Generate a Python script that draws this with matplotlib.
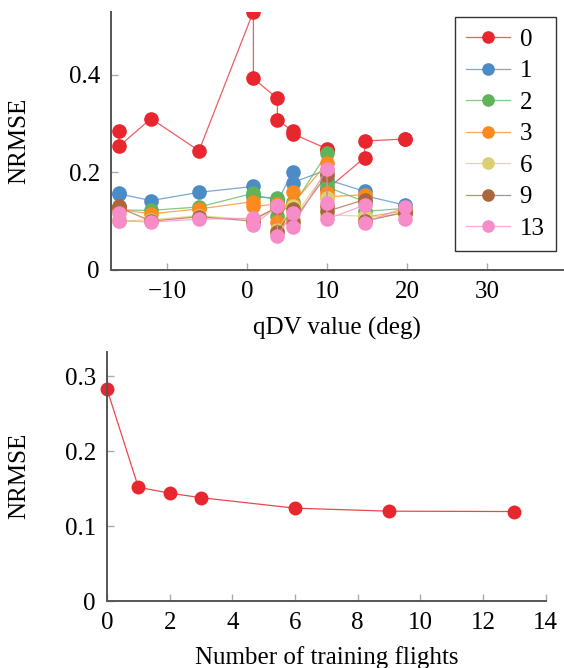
import matplotlib
matplotlib.use("Agg")
import matplotlib.pyplot as plt
from matplotlib.colors import to_rgba

plt.rcParams["font.family"] = ["Liberation Serif", "DejaVu Serif"]

# top panel: NRMSE vs qDV for different numbers of training flights
qdv = [-16, -16, -12, -6, 0.8, 0.8, 3.8, 3.8, 5.7, 5.7, 10, 10, 10, 14.7, 14.7, 19.7, 19.7]
series_labels = ["0", "1", "2", "3", "6", "9", "13"]
nrmse_0 = [0.285, 0.253, 0.310, 0.244, 0.529, 0.392, 0.351, 0.308, 0.284, 0.279, 0.248, 0.246, 0.165, 0.230, 0.264, 0.268, 0.268]
nrmse_1 = [0.158, 0.156, 0.142, 0.159, 0.171, 0.153, 0.144, 0.140, 0.200, 0.179, 0.205, 0.198, 0.185, 0.161, 0.152, 0.133, 0.131]
nrmse_2 = [0.128, 0.123, 0.122, 0.129, 0.157, 0.150, 0.147, 0.110, 0.140, 0.130, 0.239, 0.178, 0.170, 0.140, 0.120, 0.126, 0.124]
nrmse_3 = [0.126, 0.124, 0.115, 0.125, 0.140, 0.130, 0.135, 0.099, 0.159, 0.135, 0.219, 0.157, 0.150, 0.154, 0.108, 0.121, 0.119]
nrmse_6 = [0.105, 0.100, 0.103, 0.111, 0.103, 0.098, 0.132, 0.082, 0.130, 0.105, 0.203, 0.147, 0.113, 0.110, 0.106, 0.116, 0.114]
nrmse_9 = [0.130, 0.128, 0.100, 0.109, 0.100, 0.104, 0.128, 0.078, 0.125, 0.099, 0.195, 0.130, 0.120, 0.144, 0.100, 0.118, 0.116]
nrmse_13 = [0.116, 0.101, 0.098, 0.104, 0.106, 0.092, 0.130, 0.070, 0.116, 0.089, 0.207, 0.137, 0.104, 0.133, 0.097, 0.128, 0.104]
all_series = [nrmse_0, nrmse_1, nrmse_2, nrmse_3, nrmse_6, nrmse_9, nrmse_13]
colors = ["#e8262d", "#4b8bc6", "#5fb45a", "#fc8a1e", "#dbd070", "#aa663c", "#f78cc8"]

# bottom panel: mean NRMSE vs number of training flights
n_flights = [0, 1, 2, 3, 6, 9, 13]
mean_nrmse = [0.283, 0.152, 0.144, 0.138, 0.124, 0.120, 0.1195]

fig = plt.figure(figsize=(5.64, 6.68), dpi=100)
ax1 = fig.add_axes([111 / 564, 1 - 270 / 668, (563 - 111) / 564, (270 - 12) / 668])
ax2 = fig.add_axes([107 / 564, 1 - 601 / 668, (545.7 - 107) / 564, (601 - 351.7) / 668])

fs = 18


def style_axis(ax):
    for side in ["top", "right"]:
        ax.spines[side].set_visible(False)
    for side in ["left", "bottom"]:
        ax.spines[side].set_color("#555555")
        ax.spines[side].set_linewidth(1.4)
    ax.tick_params(direction="in", length=5, width=1, color="#aaaaaa",
                   labelsize=fs, pad=8)


for vals, lab, col in zip(all_series, series_labels, colors):
    ax1.plot(qdv, vals, color=to_rgba(col, 0.75), lw=0.9, marker="o", ms=9.5,
             markerfacecolor=col, markeredgecolor=col, label=lab)

ax1.set_xlim(-17, 39.5)
ax1.set_ylim(0, 0.528)
ax1.set_xticks([-10, 0, 10, 20, 30])
ax1.set_xticklabels(["\u221210", "0", "10", "20", "30"])
ax1.set_yticks([0, 0.2, 0.4])
ax1.set_yticklabels(["0", "0.2", "0.4"])
style_axis(ax1)
ax1.set_xlabel("qDV value (deg)", fontsize=fs)
ax1.set_ylabel("NRMSE", fontsize=fs)
ax1.xaxis.set_label_coords(0.5, -0.18)
ax1.yaxis.set_label_coords(-0.178, 0.5)

leg = ax1.legend(loc="upper right", bbox_to_anchor=(556 / 564, 1 - 17 / 668),
                 bbox_transform=fig.transFigure, borderaxespad=0, fontsize=fs,
                 frameon=True, fancybox=False, handlelength=1.75, handletextpad=0.4,
                 labelspacing=0.36, borderpad=0.45, markerscale=0.85)
leg.get_frame().set_edgecolor("black")
leg.get_frame().set_linewidth(1.0)

ax2.plot(n_flights, mean_nrmse, color=to_rgba(colors[0], 0.85), lw=0.9, marker="o",
         ms=9, markerfacecolor=colors[0], markeredgecolor=colors[0], clip_on=False)
ax2.set_xlim(0, 14)
ax2.set_ylim(0, 0.333)
ax2.set_xticks(range(0, 15, 2))
ax2.set_yticks([0, 0.1, 0.2, 0.3])
ax2.set_yticklabels(["0", "0.1", "0.2", "0.3"])
style_axis(ax2)
ax2.set_xlabel("Number of training flights", fontsize=fs)
ax2.set_ylabel("NRMSE", fontsize=fs)
ax2.xaxis.set_label_coords(0.5, -0.18)
ax2.yaxis.set_label_coords(-0.176, 0.5)

fig.savefig("out.png", dpi=100)
